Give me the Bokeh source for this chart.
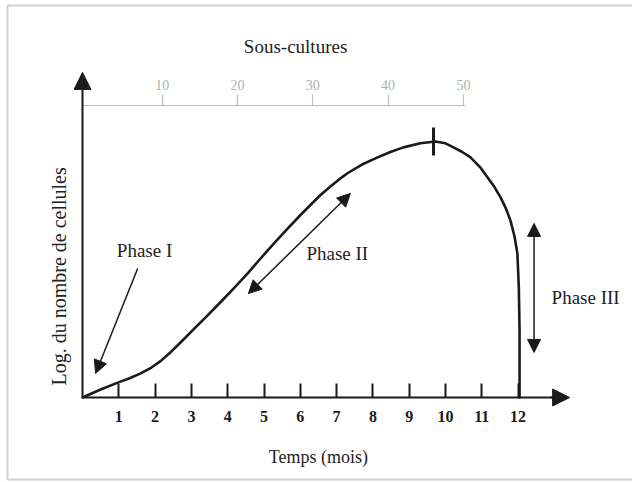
import math
from bokeh.plotting import figure
from bokeh.models import (LinearAxis, Range1d, FixedTicker, Arrow, NormalHead,
                          BoxAnnotation, Label)
from bokeh.embed import file_html
from bokeh.resources import INLINE
from bokeh.core.properties import value

# ---- data (read from the schematic) ----
month_ticks = [1, 2, 3, 4, 5, 6, 7, 8, 9, 10, 11, 12]
subculture_ticks = [10, 20, 30, 40, 50]
curve_months = [0, 0.50, 0.99, 1.30, 1.60, 1.90, 2.15, 2.45, 2.70, 3.10, 3.44,
                3.80, 4.16, 4.55, 4.90, 5.25, 5.65, 6.00, 6.28, 6.55, 6.83,
                7.05, 7.30, 7.70, 8.13, 8.50, 8.84, 9.31, 9.72, 10.00, 10.22,
                10.45, 10.69, 10.95, 11.16, 11.35, 11.52, 11.66, 11.79, 11.90,
                11.98, 12.02, 12.04, 12.04]
curve_levels = [0, 0.31, 0.59, 0.75, 0.94, 1.17, 1.42, 1.80, 2.15, 2.72, 3.20,
                3.72, 4.25, 4.85, 5.42, 5.98, 6.60, 7.12, 7.52, 7.90, 8.24,
                8.50, 8.76, 9.10, 9.38, 9.60, 9.77, 9.93, 10.00, 9.93, 9.77,
                9.60, 9.38, 9.00, 8.59, 8.22, 7.81, 7.40, 6.91, 6.30,
                5.63, 4.30, 2.62, 0]
peak_month = 9.67
phase_names = ["Phase I", "Phase II", "Phase III"]

SERIF = "Liberation Serif"
INK = "#1a1a1a"

p = figure(width=632, height=481,
           x_range=Range1d(-82 / 36.3, 550 / 36.3),
           y_range=Range1d(-84 / 25.6, 397 / 25.6),
           x_axis_type=None, y_axis_type=None,
           min_border=0,
           output_backend="svg", toolbar_location=None)
p.grid.visible = False
p.outline_line_color = None
p.background_fill_color = "white"
p.border_fill_color = "white"

# bottom axis: time in months (sits on level 0)
xaxis = LinearAxis(ticker=FixedTicker(ticks=month_ticks), bounds=(0, 13.0),
                   fixed_location=0)
xaxis.axis_line_color = INK
xaxis.axis_line_width = 2
xaxis.major_tick_in = 14
xaxis.major_tick_out = 0
xaxis.major_tick_line_width = 2
xaxis.major_tick_line_color = INK
xaxis.minor_tick_line_color = None
xaxis.major_label_text_font = SERIF
xaxis.major_label_text_font_style = "bold"
xaxis.major_label_text_font_size = "16px"
xaxis.major_label_text_color = INK
xaxis.major_label_standoff = 13
p.add_layout(xaxis, "below")

# left axis: log of cell number (no ticks), sits on month 0
yaxis = LinearAxis(ticker=FixedTicker(ticks=[]), bounds=(0, 12.3),
                   fixed_location=0)
yaxis.axis_line_color = INK
yaxis.axis_line_width = 2
yaxis.major_tick_line_color = None
yaxis.minor_tick_line_color = None
yaxis.major_label_text_font_size = "0px"
p.add_layout(yaxis, "left")

# top axis: number of sub-cultures
p.extra_x_ranges = {"sub": Range1d(-86.3 / 7.533, (632 - 86.3) / 7.533)}
subaxis = LinearAxis(x_range_name="sub", ticker=FixedTicker(ticks=subculture_ticks),
                     bounds=(-0.57, 50.3), fixed_location=(397 - 105) / 25.6)
subaxis.axis_line_color = "#bdbdbd"
subaxis.axis_line_width = 1.2
subaxis.major_tick_out = 11
subaxis.major_tick_in = 0
subaxis.major_tick_line_color = "#bdbdbd"
subaxis.major_tick_line_width = 1.2
subaxis.minor_tick_line_color = None
subaxis.major_label_text_font = SERIF
subaxis.major_label_text_font_size = "14px"
subaxis.major_label_text_color = "#b0b0b0"
subaxis.major_label_standoff = 5
p.add_layout(subaxis, "above")

# axis titles
title_style = dict(text_font=SERIF, text_color="#222222",
                   text_align="center", text_baseline="middle")
p.add_layout(Label(x=6.50, y=-2.34, text="Temps (mois)",
                   text_font_size="18px", **title_style))
p.add_layout(Label(x=-0.66, y=4.73, text="Log. du nombre de cellules",
                   angle=math.pi / 2, text_font_size="20px", **title_style))
p.add_layout(Label(x=5.87, y=13.71, text="Sous-cultures",
                   text_font_size="19px", **title_style))

# axis arrow heads
p.add_layout(Arrow(x_start=12.9, y_start=0, x_end=13.42, y_end=0, line_width=2,
                   line_color=INK,
                   end=NormalHead(size=17, fill_color=INK, line_color=INK)))
p.add_layout(Arrow(x_start=0, y_start=12.2, x_end=0, y_end=12.70, line_width=2,
                   line_color=INK,
                   end=NormalHead(size=17, fill_color=INK, line_color=INK)))

# growth curve
p.line(curve_months, curve_levels, line_color=INK, line_width=2.6,
       line_join="round", line_cap="round")
# mark at the peak
p.segment(x0=[peak_month], y0=[9.45], x1=[peak_month], y1=[10.55],
          line_color=INK, line_width=3)

# phase arrows
def head():
    return NormalHead(size=13, fill_color=INK, line_color=INK)

p.add_layout(Arrow(x_start=1.52, y_start=5.04, x_end=0.36, y_end=0.94,
                   line_width=1.5, line_color=INK, end=head()))
p.add_layout(Arrow(x_start=4.57, y_start=4.06, x_end=7.38, y_end=7.97,
                   line_width=1.5, line_color=INK, start=head(), end=head()))
p.add_layout(Arrow(x_start=12.44, y_start=1.76, x_end=12.44, y_end=6.80,
                   line_width=1.5, line_color=INK, start=head(), end=head()))

p.text(x=[1.71, 7.02, 13.86], y=[5.74, 5.63, 3.91], text=phase_names,
       text_font=value(SERIF), text_font_size="19px", text_color="#222222",
       text_align="center", text_baseline="middle")

# frame border of the figure (open on the right, as in the scan)
p.add_layout(BoxAnnotation(left=-75 / 36.3, right=30, bottom=-82 / 25.6,
                           top=392 / 25.6,
                           fill_alpha=0, line_color="#666666", line_width=2))

open("out.html", "w").write(file_html(p, INLINE))
